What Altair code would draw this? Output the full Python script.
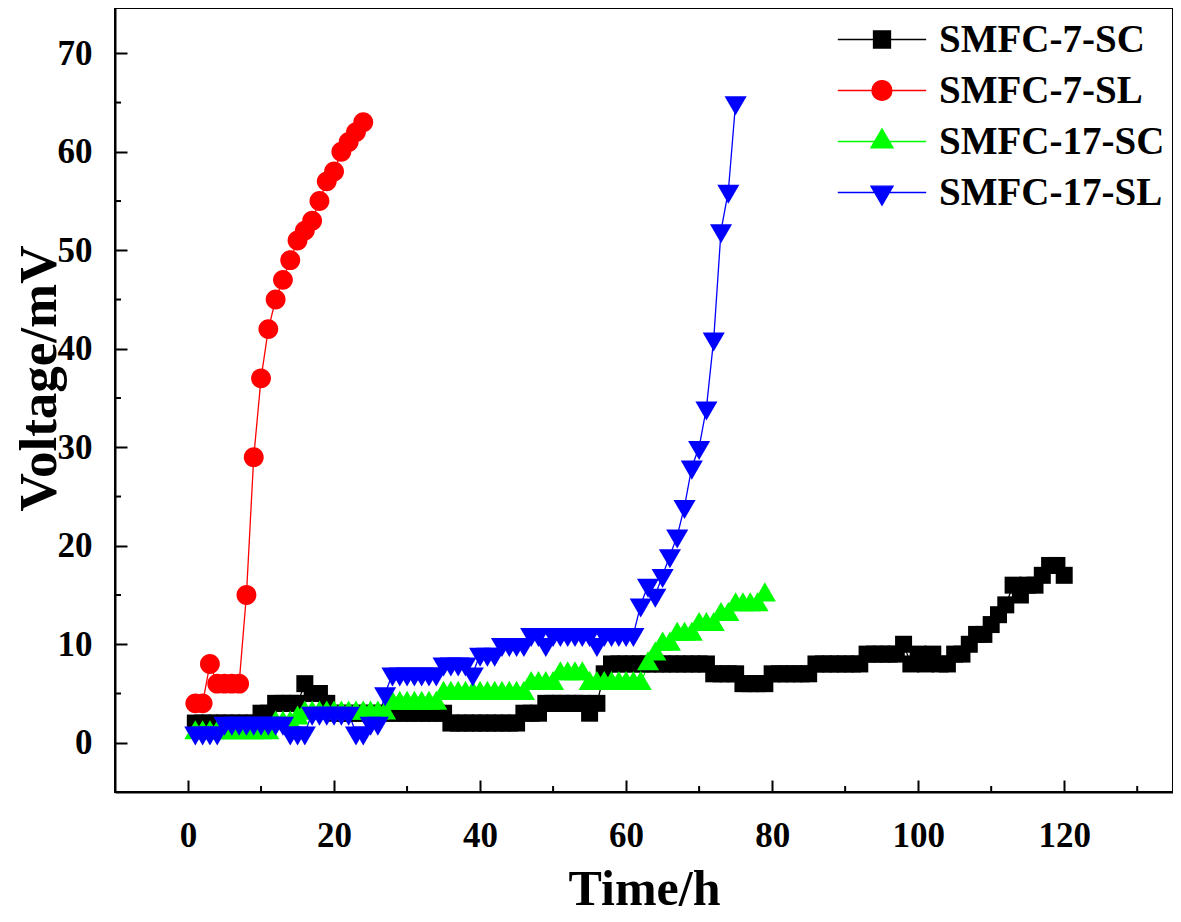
import altair as alt
import pandas as pd

# ---------------- data ----------------
series_names = ["SMFC-7-SC", "SMFC-7-SL", "SMFC-17-SC", "SMFC-17-SL"]
series_colors = ["#000000", "#FF0000", "#00FF00", "#0000FF"]

sc7_time = list(range(1, 121))
sc7_voltage = [2, 2, 2, 2, 2, 2, 2, 2, 2, 3,
               3, 4, 4, 4, 4, 6, 5, 5, 4, 3,
               3, 3, 3, 3, 3, 3, 3, 3, 3, 3,
               3, 3, 3, 3, 3, 2, 2, 2, 2, 2,
               2, 2, 2, 2, 2, 3, 3, 3, 4, 4,
               4, 4, 4, 4, 3, 4, 7, 8, 8, 8,
               8, 8, 8, 8, 8, 8, 8, 8, 8, 8,
               8, 7, 7, 7, 7, 6, 6, 6, 6, 7,
               7, 7, 7, 7, 7, 8, 8, 8, 8, 8,
               8, 8, 9, 9, 9, 9, 9, 10, 8, 9,
               8, 9, 8, 8, 9, 9, 10, 11, 11, 12,
               13, 14, 16, 15, 16, 16, 17, 18, 18, 17]

sl7_time = list(range(1, 25))
sl7_voltage = [4, 4, 8, 6, 6, 6, 6, 15, 29, 37, 42, 45, 47, 49, 51, 52,
               53, 55, 57, 58, 60, 61, 62, 63]

sc17_time = list(range(1, 80))
sc17_voltage = [1, 1, 1, 1, 1, 1, 1, 1, 1, 1,
                1, 2, 2, 2, 2.5, 3, 3, 3, 3, 3,
                3, 3, 3, 3, 3, 3, 3, 4, 4, 4,
                4, 4, 4, 4, 5, 5, 5, 5, 5, 5,
                5, 5, 5, 5, 5, 5, 6, 6, 6, 6,
                7, 7, 7, 7, 6, 6, 6, 6, 6, 6,
                6, 6, 8, 9, 10, 10, 11, 11, 11, 12,
                12, 12, 13, 13, 14, 14, 14, 14, 15]

sl17_time = list(range(1, 76))
sl17_voltage = [1, 1, 1, 1, 2, 2, 2, 2, 2, 2,
                2, 2, 2, 1, 1, 1, 3, 3, 3, 3,
                3, 3, 1, 1, 2, 2, 5, 7, 7, 7,
                7, 7, 7, 7, 8, 8, 8, 8, 7, 9,
                9, 9, 10, 10, 10, 10, 11, 11, 10, 11,
                11, 11, 11, 11, 11, 10, 11, 11, 11, 11,
                11, 14, 16, 15, 17, 19, 21, 24, 28, 30,
                34, 41, 52, 56, 65]

x_major = [0, 20, 40, 60, 80, 100, 120]
x_minor = [10, 30, 50, 70, 90, 110, 130]
y_major = [0, 10, 20, 30, 40, 50, 60, 70]
y_minor = [5, 15, 25, 35, 45, 55, 65]

# ---------------- tables ----------------
rows = []
for idx, (name, ts, vs) in enumerate([(series_names[0], sc7_time, sc7_voltage),
                                      (series_names[1], sl7_time, sl7_voltage),
                                      (series_names[2], sc17_time, sc17_voltage),
                                      (series_names[3], sl17_time, sl17_voltage)]):
    for t, v in zip(ts, vs):
        rows.append({"time": t, "voltage": v, "series": name, "idx": idx})
df = pd.DataFrame(rows)

FONT = "Liberation Serif"
W, H = 1058, 784

# marker shapes (unit square -1..1, centroid-centred triangles like Origin)
sq = "M-1,-1H1V1H-1Z"
ci = "M-1.17,0A1.17,1.17,0,1,1,1.17,0A1.17,1.17,0,1,1,-1.17,0Z"
tu = "M0,-1.49L1.3,0.75L-1.3,0.75Z"
td = "M-1.3,-0.75L1.3,-0.75L0,1.49Z"
marker_paths = [sq, ci, tu, td]
arm = "M-5.2,0H5.2"
legend_paths = [arm + p for p in marker_paths]
sym_expr = " : ".join(
    f"datum.value === '{n}' ? '{p}'" for n, p in zip(series_names[:-1], legend_paths[:-1])
) + f" : '{legend_paths[-1]}'"

x_scale = alt.Scale(domain=[-10, 134.9], nice=False, zero=False)
y_scale = alt.Scale(domain=[-5, 74.6], nice=False, zero=False)
color_scale = alt.Scale(domain=series_names, range=series_colors)
idx_stroke_scale = alt.Scale(domain=[0, 1, 2, 3], range=series_colors)
shape_scale = alt.Scale(domain=[0, 1, 2, 3], range=marker_paths)

x_axis = alt.Axis(values=x_major, title="Time/h", grid=False,
                  tickSize=alt.ExprRef("-12"), tickWidth=2, tickColor="black",
                  domainWidth=2, domainColor="black",
                  labelFont=FONT, labelFontSize=35, labelFontWeight="bold",
                  labelColor="black", labelPadding=38, labelFlush=False,
                  titleFont=FONT, titleFontSize=50, titleFontWeight="bold",
                  titleColor="black", titlePadding=11)
y_axis = alt.Axis(values=y_major, title="Voltage/mV", grid=False,
                  tickSize=alt.ExprRef("-12"), tickWidth=2, tickColor="black",
                  domainWidth=2, domainColor="black",
                  labelFont=FONT, labelFontSize=35, labelFontWeight="bold",
                  labelColor="black", labelPadding=35, labelFlush=False,
                  titleFont=FONT, titleFontSize=53, titleFontWeight="bold",
                  titleColor="black", titleAngle=270, titleAlign="center",
                  titleBaseline="alphabetic", titleX=-59.5, titleY=370)

X = alt.X("time:Q", scale=x_scale, axis=x_axis)
Y = alt.Y("voltage:Q", scale=y_scale, axis=y_axis)

lines = alt.Chart(df).mark_line(strokeWidth=1.3).encode(
    x=X, y=Y,
    stroke=alt.Stroke("idx:N", scale=idx_stroke_scale, legend=None),
    detail="series:N",
)

points = alt.Chart(df).mark_point(filled=True, size=289, opacity=1).encode(
    x=X, y=Y,
    color=alt.Color("series:N", scale=color_scale, legend=alt.Legend(
        title=None, orient="none", legendX=747.5, legendY=12,
        symbolType=alt.ExprRef(sym_expr), symbolSize=289,
        symbolStrokeColor=alt.ExprRef("scale('color', datum.value)"),
        symbolStrokeWidth=1.3, symbolOpacity=1,
        labelFont=FONT, labelFontSize=39, labelFontWeight="bold",
        labelColor="black", labelOffset=37.5, labelLimit=0,
        rowPadding=11, padding=0,
    )),
    shape=alt.Shape("idx:N", scale=shape_scale, legend=None),
)

xminor = alt.Chart(pd.DataFrame({"time": x_minor})).mark_rule(
    color="black", strokeWidth=2).encode(
    x=X, y=alt.value(H), y2=alt.value(H - 6))
yminor = alt.Chart(pd.DataFrame({"voltage": y_minor})).mark_rule(
    color="black", strokeWidth=2).encode(
    y=Y, x=alt.value(0), x2=alt.value(6))

chart = alt.layer(lines, points, xminor, yminor).properties(
    width=W, height=H,
    autosize=alt.AutoSizeParams(type="none"),
    padding={"left": 107, "top": 0, "right": 0, "bottom": 122},
).configure_view(stroke="black", strokeWidth=2)

chart.save("out.html", embed_options={"renderer": "svg", "actions": False})
